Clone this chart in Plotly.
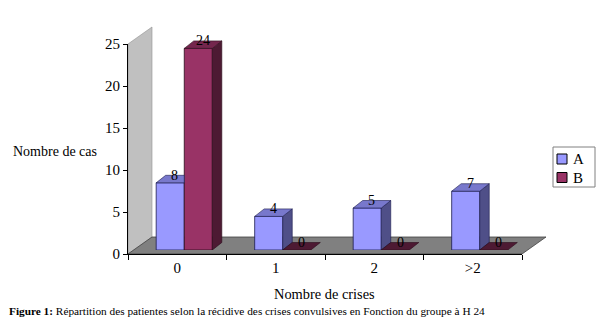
import plotly.graph_objects as go

categories = ["0", "1", "2", ">2"]
group_a = [8, 4, 5, 7]
group_b = [24, 0, 0, 0]
series_names = ["A", "B"]
y_ticks = [0, 5, 10, 15, 20, 25]

W, H = 600, 322
# plot geometry in pixels
X0, X1 = 128, 522          # x axis extent (front)
Y0, Y25 = 254, 44          # y pixel of 0 and 25
WALL_DX, WALL_DY = 24, 17  # back wall / floor depth
BAR_SHIFT_X, BAR_SHIFT_Y = 7, 4
BAR_DX, BAR_DY = 9.5, 7.5  # bar depth (px)
YMAX = 25
BARGAP = 0.43

def px(x):
    return x / W

def py(y):
    return 1 - y / H

FONT = "Liberation Serif, Times New Roman, serif"

col_a = dict(front="#9999ff", side="#4f4f88", top="#7878cc")
col_b = dict(front="#993366", side="#4d1a33", top="#74264d")
colors = [col_a, col_b]

fig = go.Figure()
# invisible trace to anchor the visible front axes
fig.add_trace(go.Scatter(x=categories, y=group_a, mode="markers", marker=dict(opacity=0),
                         showlegend=False, hoverinfo="skip", xaxis="x", yaxis="y"))
fig.add_trace(go.Bar(x=categories, y=group_a, name=series_names[0], xaxis="x2", yaxis="y2",
                     marker=dict(color=col_a["front"], line=dict(color="#1a1a4d", width=0.8))))
fig.add_trace(go.Bar(x=categories, y=group_b, name=series_names[1], xaxis="x2", yaxis="y2",
                     marker=dict(color=col_b["front"], line=dict(color="#2a0a1a", width=0.8))))

ncat = len(categories)
ux = (X1 - X0) / ncat                # px per category unit
uy = (Y0 - Y25) / YMAX               # px per y unit
dx = BAR_DX / ux
dy = BAR_DY / uy
w = (1 - BARGAP) / 2

shapes = []
# back wall and floor
shapes.append(dict(type="path", xref="paper", yref="paper", layer="below",
                   path=f"M{px(X0)},{py(Y0)} L{px(X0)},{py(Y25)} L{px(X0+WALL_DX)},{py(Y25-WALL_DY)} "
                        f"L{px(X0+WALL_DX)},{py(Y0-WALL_DY)} Z",
                   fillcolor="#c0c0c0", line=dict(color="#909090", width=0.6)))
shapes.append(dict(type="path", xref="paper", yref="paper", layer="below",
                   path=f"M{px(X0)},{py(Y0)} L{px(X0+WALL_DX)},{py(Y0-WALL_DY)} L{px(X1+WALL_DX)},{py(Y0-WALL_DY)} "
                        f"L{px(X1)},{py(Y0)} Z",
                   fillcolor="#808080", line=dict(color="#404040", width=0.8)))

def poly(pts, fill, edge):
    p = "M" + " L".join(f"{a},{b}" for a, b in pts) + " Z"
    return dict(type="path", xref="x2", yref="y2", layer="above", path=p,
                fillcolor=fill, line=dict(color=edge, width=0.6))

annotations = []
for i, (ha, hb) in enumerate(zip(group_a, group_b)):
    a0, a1 = i - w, i
    b0, b1 = i, i + w
    # bar A side (visible part above B) and top
    if ha > hb:
        shapes.append(poly([(a1, hb), (a1 + dx, hb + dy), (a1 + dx, ha + dy), (a1, ha)], col_a["side"], "#1a1a4d"))
        shapes.append(poly([(a0, ha), (a0 + dx, ha + dy), (a1 + dx, ha + dy), (a1, ha)], col_a["top"], "#1a1a4d"))
    else:
        shapes.append(poly([(a0, ha), (a0 + dx, ha + dy), (a1, ha + dy), (a1, ha)], col_a["top"], "#1a1a4d"))
    # bar B side and top
    if hb > 0:
        shapes.append(poly([(b1, 0), (b1 + dx, dy), (b1 + dx, hb + dy), (b1, hb)], col_b["side"], "#2a0a1a"))
    shapes.append(poly([(b0, hb), (b0 + dx, hb + dy), (b1 + dx, hb + dy), (b1, hb)],
                       col_b["top"] if hb > 0 else col_b["side"], "#2a0a1a"))
    for h, c in ((ha, (a0 + a1) / 2), (hb, (b0 + b1) / 2)):
        annotations.append(dict(x=c + dx / 2, y=h + dy, xref="x2", yref="y2", text=str(h),
                                showarrow=False, xanchor="center", yanchor="middle",
                                font=dict(family=FONT, size=14, color="black")))

# custom legend box
LEG_X0, LEG_X1, LEG_Y0, LEG_Y1 = 553, 595, 147, 187
LEG_ROW0, LEG_ROW_STEP = 159, 18.5
shapes.append(dict(type="rect", xref="paper", yref="paper", x0=px(LEG_X0), x1=px(LEG_X1),
                   y0=py(LEG_Y1), y1=py(LEG_Y0), fillcolor="white", line=dict(color="#808080", width=1)))
for k, (name, col) in enumerate(zip(series_names, colors)):
    yc = LEG_ROW0 + k * LEG_ROW_STEP
    shapes.append(dict(type="rect", xref="paper", yref="paper", x0=px(557), x1=px(567),
                       y0=py(yc + 5), y1=py(yc - 5), fillcolor=col["front"],
                       line=dict(color="black", width=1)))
    annotations.append(dict(x=px(571), y=py(yc), xref="paper", yref="paper", text=name,
                            showarrow=False, xanchor="left", yanchor="middle",
                            font=dict(family=FONT, size=15, color="black")))

annotations.append(dict(x=px(11), y=py(151), xref="paper", yref="paper", text="Nombre de cas",
                        showarrow=False, xanchor="left", yanchor="middle",
                        font=dict(family=FONT, size=14, color="black")))
annotations.append(dict(x=px(324), y=py(294), xref="paper", yref="paper", text="Nombre de crises",
                        showarrow=False, xanchor="center", yanchor="middle",
                        font=dict(family=FONT, size=14.4, color="black")))
annotations.append(dict(x=px(7), y=py(311), xref="paper", yref="paper",
                        text="<b>Figure 1:</b> Répartition des patientes selon la récidive des crises convulsives en Fonction du groupe à H 24",
                        showarrow=False, xanchor="left", yanchor="middle",
                        font=dict(family=FONT, size=11.3, color="black")))

fig.update_layout(
    width=W, height=H, margin=dict(l=0, r=0, t=0, b=0, autoexpand=False),
    paper_bgcolor="white", plot_bgcolor="rgba(0,0,0,0)",
    barmode="group", bargap=BARGAP, bargroupgap=0,
    font=dict(family=FONT, size=14, color="black"),
    xaxis=dict(type="category", categoryarray=categories, categoryorder="array", range=[-0.5, ncat - 0.5],
               domain=[px(X0), px(X1)], anchor="y", showline=True, linecolor="black", linewidth=1,
               ticks="outside", tickson="boundaries", ticklen=5, tickcolor="black",
               showgrid=False, zeroline=False, tickfont=dict(family=FONT, size=15)),
    yaxis=dict(range=[0, YMAX], domain=[py(Y0), py(Y25)], anchor="x", showline=True,
               linecolor="black", linewidth=1, ticks="outside", ticklen=4, tickcolor="black",
               tickvals=y_ticks, showgrid=False, zeroline=False, tickfont=dict(family=FONT, size=15)),
    xaxis2=dict(type="category", categoryarray=categories, categoryorder="array", range=[-0.5, ncat - 0.5],
                domain=[px(X0 + BAR_SHIFT_X), px(X1 + BAR_SHIFT_X)], anchor="y2", visible=False),
    yaxis2=dict(range=[0, YMAX], domain=[py(Y0 - BAR_SHIFT_Y), py(Y25 - BAR_SHIFT_Y)], anchor="x2",
                visible=False),
    shapes=shapes, annotations=annotations, showlegend=False,
)

fig.write_html("out.html")
